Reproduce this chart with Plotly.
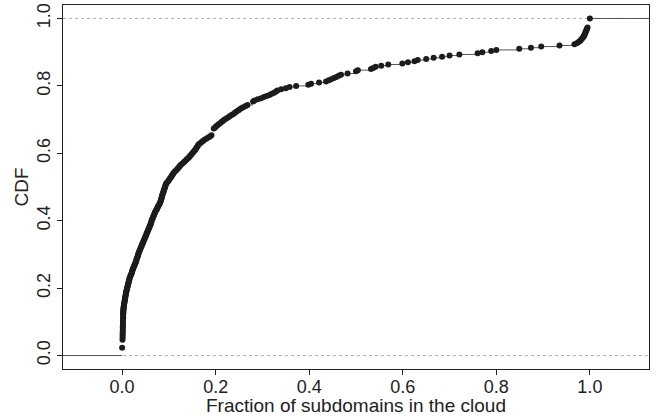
import numpy as np
import plotly.graph_objects as go

# Sample values (fraction of subdomains in the cloud)
fractions = (
    [0.0] * 7
    + [0.0008] * 7
    + [0.001, 0.001, 0.0011, 0.0011, 0.0012, 0.0012, 0.0013, 0.0014, 0.0014, 0.0015,
       0.0015, 0.0016, 0.0017, 0.0017, 0.0018, 0.0018, 0.0019, 0.002, 0.002, 0.0021,
       0.0022, 0.0022, 0.0023, 0.0024, 0.0025, 0.0026, 0.0028, 0.003]
    + [0.0033, 0.0036, 0.004, 0.0044, 0.0048, 0.0052, 0.0056, 0.006, 0.0064, 0.0068,
       0.0072, 0.0076, 0.008, 0.0085, 0.009]
    + [0.0096, 0.0102, 0.0108, 0.0114, 0.012, 0.0126, 0.0132, 0.0138, 0.0144, 0.015,
       0.0155, 0.016]
    + [0.017, 0.018, 0.019, 0.020, 0.021, 0.0215, 0.022, 0.023, 0.024, 0.025, 0.026, 0.027]
    + [0.028, 0.029, 0.030, 0.0305, 0.031, 0.032, 0.033, 0.034, 0.0345, 0.035, 0.036, 0.037]
    + [0.038, 0.039, 0.040, 0.041, 0.042, 0.043, 0.044, 0.045, 0.046, 0.047, 0.048, 0.049,
       0.050, 0.051, 0.052]
    + [0.053, 0.054, 0.055, 0.056, 0.057, 0.058, 0.059, 0.060, 0.061, 0.062, 0.0625, 0.063,
       0.064, 0.065, 0.066]
    + [0.067, 0.068, 0.069, 0.070, 0.071, 0.072, 0.074, 0.075, 0.076, 0.077, 0.079, 0.080]
    + [0.081, 0.082, 0.083, 0.0835, 0.084, 0.085, 0.0855, 0.086, 0.087, 0.088, 0.0885,
       0.089, 0.090, 0.091, 0.092, 0.0925, 0.093, 0.094]
    + [0.096, 0.098, 0.100, 0.101, 0.103, 0.105, 0.106, 0.108, 0.109]
    + [0.111, 0.113, 0.116, 0.118, 0.120, 0.122, 0.124, 0.126]
    + [0.129, 0.132, 0.134, 0.137, 0.139, 0.142, 0.144]
    + [0.146, 0.148, 0.150, 0.152, 0.154, 0.156, 0.158, 0.159, 0.161, 0.162]
    + [0.164, 0.167, 0.170, 0.173, 0.176, 0.180, 0.184, 0.188, 0.191]
    + [0.196] * 6
    + [0.199, 0.201, 0.204, 0.207, 0.210, 0.213, 0.216, 0.219, 0.223]
    + [0.227, 0.230, 0.234, 0.238, 0.241, 0.244, 0.248, 0.251]
    + [0.255, 0.259, 0.264, 0.268]
    + [0.280, 0.280, 0.280, 0.283]
    + [0.290, 0.297, 0.303, 0.309, 0.315]
    + [0.320, 0.325, 0.329, 0.332]
    + [0.340, 0.350, 0.358, 0.372]
    + [0.398, 0.404, 0.421, 0.436, 0.442, 0.447, 0.453, 0.458, 0.463, 0.468, 0.482]
    + [0.500, 0.500, 0.504]
    + [0.532, 0.537, 0.542, 0.554, 0.569]
    + [0.599, 0.611, 0.625, 0.632, 0.650, 0.666]
    + [0.684, 0.700, 0.721, 0.760, 0.770, 0.789, 0.800, 0.849, 0.874, 0.896, 0.935, 0.967]
    + [0.972, 0.976, 0.979, 0.981, 0.983, 0.985, 0.987, 0.988, 0.989, 0.990, 0.991,
       0.992, 0.993, 0.994, 0.995]
    + [1.0] * 8
)

x_ticks = [0.0, 0.2, 0.4, 0.6, 0.8, 1.0]
x_tick_labels = ["0.0", "0.2", "0.4", "0.6", "0.8", "1.0"]
y_ticks = [0.0, 0.2, 0.4, 0.6, 0.8, 1.0]
y_tick_labels = ["0.0", "0.2", "0.4", "0.6", "0.8", "1.0"]
x_title = "Fraction of subdomains in the cloud"
y_title = "CDF"

XMIN, XMAX = -0.1264, 1.1264
YMIN, YMAX = -0.04, 1.04

# Empirical CDF
vals = np.sort(np.array(fractions))
n = len(vals)
knots, counts = np.unique(vals, return_counts=True)
cdf = np.cumsum(counts) / n

# Horizontal step segments (no verticals), like R's plot(ecdf(x))
seg_x, seg_y = [XMIN - 0.1, knots[0], None], [0.0, 0.0, None]
for i in range(len(knots)):
    nxt = knots[i + 1] if i + 1 < len(knots) else XMAX + 0.1
    seg_x += [knots[i], nxt, None]
    seg_y += [cdf[i], cdf[i], None]

font_family = "Liberation Sans, Arial, Helvetica, sans-serif"
txt_color = "#222222"
FS_TICK = 18
FS_TITLE = 19

fig = go.Figure()
fig.add_trace(go.Scatter(x=seg_x, y=seg_y, mode="lines",
                         line=dict(color="#555555", width=1),
                         hoverinfo="skip", showlegend=False))
fig.add_trace(go.Scatter(x=knots, y=cdf, mode="markers",
                         marker=dict(color="#1c1c1c", size=6, line=dict(width=0)),
                         showlegend=False))

for h in (0.0, 1.0):
    fig.add_shape(type="line", xref="paper", yref="y", x0=0, x1=1, y0=h, y1=h,
                  line=dict(color="#b3b3b3", width=1, dash="3px,3px"), layer="below")

fig.update_layout(
    width=660, height=420,
    margin=dict(l=63, r=11, t=3, b=51),
    paper_bgcolor="white", plot_bgcolor="white",
    font=dict(family=font_family, color=txt_color, size=FS_TICK),
)
axis_common = dict(
    ticks="outside", ticklen=5, tickwidth=1, tickcolor="#222222",
    showline=True, linecolor="#222222", linewidth=1, mirror=True,
    showgrid=False, zeroline=False,
    tickfont=dict(family=font_family, size=FS_TICK, color=txt_color),
)
fig.update_xaxes(range=[XMIN, XMAX], tickvals=x_ticks, ticktext=x_tick_labels,
                 ticklabelstandoff=-4, **axis_common)
fig.update_yaxes(range=[YMIN, YMAX], tickvals=y_ticks, ticktext=y_tick_labels,
                 tickangle=-90, **axis_common)

fig.add_annotation(text=x_title, xref="paper", yref="paper", x=0.5, y=-0.100,
                   xanchor="center", yanchor="middle", showarrow=False,
                   font=dict(family=font_family, size=FS_TITLE, color=txt_color))
fig.add_annotation(text=y_title, xref="paper", yref="paper", x=-0.0725, y=0.5,
                   xanchor="center", yanchor="middle", showarrow=False, textangle=-90,
                   font=dict(family=font_family, size=FS_TITLE, color=txt_color))

fig.write_html("out.html")
